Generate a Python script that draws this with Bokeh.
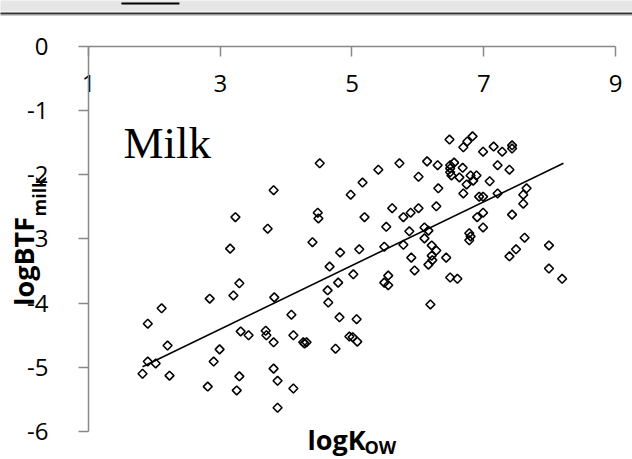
import numpy as np
from bokeh.plotting import figure
from bokeh.models import Range1d, FixedTicker, Label, BoxAnnotation
from bokeh.embed import file_html
from bokeh.resources import INLINE

# ---- data ----
log_kow = [1.82, 1.90, 2.02, 1.90, 2.11, 2.20, 2.23, 2.81, 2.84, 2.90,
           2.99, 3.15, 3.23, 3.20, 3.29, 3.25, 3.29, 3.31, 3.43, 3.69,
           3.70, 3.72, 3.81, 3.82, 3.81, 3.81, 3.87, 3.87, 4.08, 4.11,
           4.11, 4.26, 4.31, 4.28, 4.40, 4.48, 4.49, 4.51, 4.63, 4.64,
           4.66, 4.75, 4.79, 4.81, 4.82, 4.96, 5.01, 5.08, 4.98, 5.02,
           5.07, 5.11, 5.16, 5.19, 5.40, 5.49, 5.52, 5.55, 5.49, 5.55,
           5.61, 5.72, 5.78, 5.78, 5.89, 5.90, 5.95, 6.01, 6.01, 5.87,
           6.10, 6.10, 6.14, 6.16, 6.16, 6.19, 6.21, 6.21, 6.22, 6.28,
           6.28, 6.30, 6.31, 6.43, 6.49, 6.60, 6.48, 6.55, 6.49, 6.49,
           6.49, 6.51, 6.63, 6.68, 6.69, 6.69, 6.74, 6.75, 6.83, 6.80,
           6.89, 6.84, 6.78, 6.80, 6.78, 6.90, 6.93, 6.99, 6.99, 6.99,
           6.99, 7.09, 7.15, 7.21, 7.21, 7.28, 7.39, 7.39, 7.43, 7.43,
           7.43, 7.49, 7.60, 7.60, 7.62, 7.65, 7.99, 7.99, 8.19]
log_btf = [-5.10, -4.91, -4.94, -4.32, -4.08, -4.66, -5.13, -5.30, -3.93, -4.91,
           -4.72, -3.15, -2.66, -3.88, -3.69, -5.36, -5.14, -4.44, -4.50, -4.43,
           -4.50, -2.84, -2.24, -3.91, -4.61, -5.02, -5.21, -5.63, -4.18, -4.50,
           -5.33, -4.61, -4.61, -4.63, -3.05, -2.59, -2.68, -1.82, -3.80, -3.99,
           -3.43, -4.71, -3.68, -4.22, -3.21, -4.52, -4.53, -4.60, -2.31, -3.55,
           -4.25, -3.16, -2.12, -2.66, -1.92, -3.12, -2.81, -3.57, -3.68, -3.72,
           -2.52, -1.82, -2.66, -3.09, -2.59, -3.29, -3.49, -2.03, -2.52, -2.88,
           -2.82, -2.99, -1.79, -2.87, -3.40, -4.02, -3.10, -3.26, -3.33, -2.49,
           -3.18, -1.85, -2.21, -3.29, -3.60, -3.62, -1.45, -1.81, -1.85, -1.90,
           -1.96, -2.01, -2.04, -1.89, -1.57, -2.29, -2.15, -1.48, -1.40, -2.01,
           -2.01, -2.09, -2.91, -2.96, -3.02, -2.66, -2.34, -2.34, -1.64, -2.59,
           -2.82, -2.10, -1.56, -1.85, -2.29, -1.64, -1.92, -3.27, -1.54, -1.59,
           -2.62, -3.16, -2.31, -2.45, -2.98, -2.21, -3.10, -3.46, -3.62]
trend_x = [1.82, 8.21]
trend_y = [-4.99, -1.82]
x_ticks = [1, 3, 5, 7, 9]
y_ticks = [-6, -5, -4, -3, -2, -1, 0]
y_tick_labels = ["-6", "-5", "-4", "-3", "-2", "-1", "0"]

AXIS_GREY = "#888888"
SANS = "Open Sans"

# the frame fills the whole canvas; the axes sit at fixed data locations
p = figure(width=632, height=459,
           x_range=Range1d(-0.3359, 9.2581), y_range=Range1d(-6.4364, 0.7169),
           x_axis_location="below", y_axis_location="left",
           output_backend="svg", toolbar_location=None,
           min_border=0, min_border_left=0, min_border_right=0,
           min_border_top=0, min_border_bottom=0)
p.grid.visible = False
p.outline_line_color = None
p.background_fill_color = "white"
p.border_fill_color = "white"

# x axis drawn along y = 0 (top of the plot area), ticks down, labels below
xa = p.xaxis[0]
xa.fixed_location = 0
xa.bounds = (1, 9)
xa.ticker = FixedTicker(ticks=x_ticks)
xa.major_tick_in = 0
xa.major_tick_out = 10
xa.minor_tick_in = 0
xa.minor_tick_out = 0
xa.major_label_standoff = 18
xa.axis_line_color = AXIS_GREY
xa.axis_line_width = 1.5
xa.major_tick_line_color = AXIS_GREY
xa.major_tick_line_width = 1.5
xa.major_label_text_font = SANS
xa.major_label_text_font_size = "24px"
xa.major_label_text_color = "black"

ya = p.yaxis[0]
ya.fixed_location = 1
ya.bounds = (-6, 0)
ya.ticker = FixedTicker(ticks=y_ticks)
ya.major_label_overrides = dict(zip(y_ticks, y_tick_labels))
ya.major_tick_in = 0
ya.major_tick_out = 10
ya.minor_tick_in = 0
ya.minor_tick_out = 0
ya.major_label_standoff = 30
ya.axis_line_color = AXIS_GREY
ya.axis_line_width = 1.5
ya.major_tick_line_color = AXIS_GREY
ya.major_tick_line_width = 1.5
ya.major_label_text_font = SANS
ya.major_label_text_font_size = "24px"
ya.major_label_text_color = "black"

# top strip of the page the chart was cut from
p.add_layout(BoxAnnotation(left=-2, right=11, bottom=0.545, top=0.9,
                           fill_color="#e6e6e6", fill_alpha=1.0,
                           line_color=None))
p.add_layout(BoxAnnotation(left=-2, right=11, bottom=0.50, top=0.53,
                           fill_color="#333333", fill_alpha=1.0,
                           line_color=None))
p.add_layout(BoxAnnotation(left=-2, right=11, bottom=0.485, top=0.50,
                           fill_color="#9a9a9a", fill_alpha=1.0,
                           line_color=None))
p.add_layout(BoxAnnotation(left=1.50, right=2.38, bottom=0.655, top=0.686,
                           fill_color="black", fill_alpha=1.0,
                           line_color=None))

# data
p.scatter(log_kow, log_btf, marker="square", angle=np.pi / 4, size=6.3,
          line_color="black", line_width=1.6, fill_alpha=0)
p.line(trend_x, trend_y, line_color="black", line_width=1.6)

# texts
p.add_layout(Label(x=1.53, y=-1.50, text="Milk", text_font="Liberation Serif",
                   text_font_size="45px", text_color="black",
                   text_align="left", text_baseline="alphabetic"))
p.add_layout(Label(x=0.013, y=-4.04, text="logBTF", angle=np.pi / 2,
                   text_font=SANS, text_font_style="bold",
                   text_font_size="27px", text_color="black",
                   text_align="left", text_baseline="alphabetic"))
p.add_layout(Label(x=0.241, y=-2.65, text="milk", angle=np.pi / 2,
                   text_font=SANS, text_font_style="bold",
                   text_font_size="18px", text_color="black",
                   text_align="left", text_baseline="alphabetic"))
p.add_layout(Label(x=4.324, y=-6.125, text="logK",
                   text_font=SANS, text_font_style="bold",
                   text_font_size="27px", text_color="black",
                   text_align="left", text_baseline="alphabetic"))
p.add_layout(Label(x=5.19, y=-6.249, text="OW",
                   text_font=SANS, text_font_style="bold",
                   text_font_size="18px", text_color="black",
                   text_align="left", text_baseline="alphabetic"))

open("out.html", "w").write(file_html(p, INLINE))
